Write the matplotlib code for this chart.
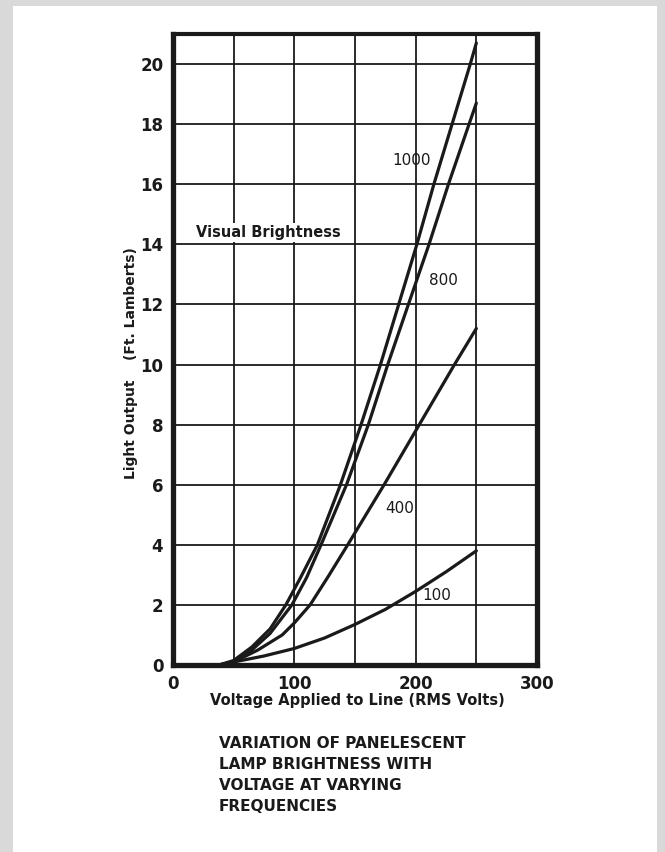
import matplotlib.pyplot as plt
from matplotlib.patches import Rectangle

# Data (volts, foot-lamberts)
volts_1000 = [38, 50, 65, 80, 93, 105, 119, 138, 155, 171, 186, 201, 215, 230, 245, 250]
light_1000 = [0, 0.15, 0.6, 1.2, 2.0, 2.9, 4.0, 6.0, 8.0, 10.0, 12.0, 14.0, 16.0, 18.0, 20.0, 20.7]

volts_800 = [38, 50, 65, 80, 98, 110, 122, 143, 161, 177, 194, 211, 227, 244, 250]
light_800 = [0, 0.12, 0.5, 1.05, 2.0, 2.9, 4.0, 6.0, 8.0, 10.0, 12.0, 14.0, 16.0, 18.0, 18.7]

volts_400 = [38, 50, 70, 90, 100, 113, 128, 144, 174, 203, 232, 250]
light_400 = [0, 0.1, 0.5, 1.0, 1.4, 2.0, 2.95, 4.0, 6.0, 8.0, 10.0, 11.2]

volts_100 = [38, 50, 75, 100, 125, 150, 175, 200, 225, 250]
light_100 = [0, 0.1, 0.3, 0.55, 0.9, 1.35, 1.85, 2.45, 3.1, 3.8]

freq_labels = ['1000', '800', '400', '100']
label_pos = [(197, 16.8), (223, 12.8), (187, 5.2), (217, 2.3)]

x_ticks = [0, 100, 200, 300]
y_ticks = list(range(0, 21, 2))

caption = ("VARIATION OF PANELESCENT\nLAMP BRIGHTNESS WITH\n"
           "VOLTAGE AT VARYING\nFREQUENCIES")

fig = plt.figure(figsize=(6.65, 8.52), dpi=100)
fig.patch.set_facecolor('#d9d9d9')
# white page
fig.patches.append(Rectangle((13 / 665, 0), 644 / 665, 1 - 6 / 852,
                             transform=fig.transFigure, facecolor='white',
                             edgecolor='none', zorder=-1))

ax = fig.add_axes([173 / 665, 1 - 665 / 852, 364 / 665, 631 / 852])
ax.set_zorder(2)
ax.set_xlim(0, 300)
ax.set_ylim(0, 21)

for v in range(50, 300, 50):
    ax.axvline(v, color='#1a1a1a', lw=1.3, zorder=1)
for y in y_ticks[1:]:
    ax.axhline(y, color='#1a1a1a', lw=1.3, zorder=1)

curves = [(volts_1000, light_1000), (volts_800, light_800),
          (volts_400, light_400), (volts_100, light_100)]
for xs, ys in curves:
    ax.plot(xs, ys, color='#1a1a1a', lw=2.3, solid_joinstyle='round',
            solid_capstyle='round', zorder=3)

for lab, (x, y) in zip(freq_labels, label_pos):
    ax.text(x, y, lab, fontsize=11, ha='center', va='center', color='#1a1a1a')

ax.text(19, 14.4, 'Visual Brightness', fontsize=10.5, fontweight='bold',
        ha='left', va='center', color='#1a1a1a',
        bbox=dict(facecolor='white', edgecolor='none', pad=1.5), zorder=4)

ax.set_xticks(x_ticks)
ax.set_yticks(y_ticks)
ax.tick_params(length=0, labelsize=12, colors='#1a1a1a')
ax.tick_params(axis='y', pad=7)
ax.tick_params(axis='x', pad=7)
for lab in ax.get_xticklabels() + ax.get_yticklabels():
    lab.set_fontweight('bold')

for side in ['left', 'bottom', 'right']:
    ax.spines[side].set_linewidth(3.8)
ax.spines['top'].set_linewidth(3.0)
for sp in ax.spines.values():
    sp.set_color('#1a1a1a')

fig.text(357 / 665, 1 - 700 / 852, 'Voltage Applied to Line (RMS Volts)',
         fontsize=10.5, fontweight='bold', ha='center', va='center', color='#1a1a1a')
fig.text(131 / 665, 1 - 363 / 852, 'Light Output    (Ft. Lamberts)',
         fontsize=10, fontweight='bold', ha='center', va='center',
         rotation=90, color='#1a1a1a')

fig.text(219 / 665, 1 - 736 / 852, caption, fontsize=11, fontweight='bold',
         ha='left', va='top', linespacing=1.5, color='#1a1a1a')

fig.savefig('out.png', dpi=100)
